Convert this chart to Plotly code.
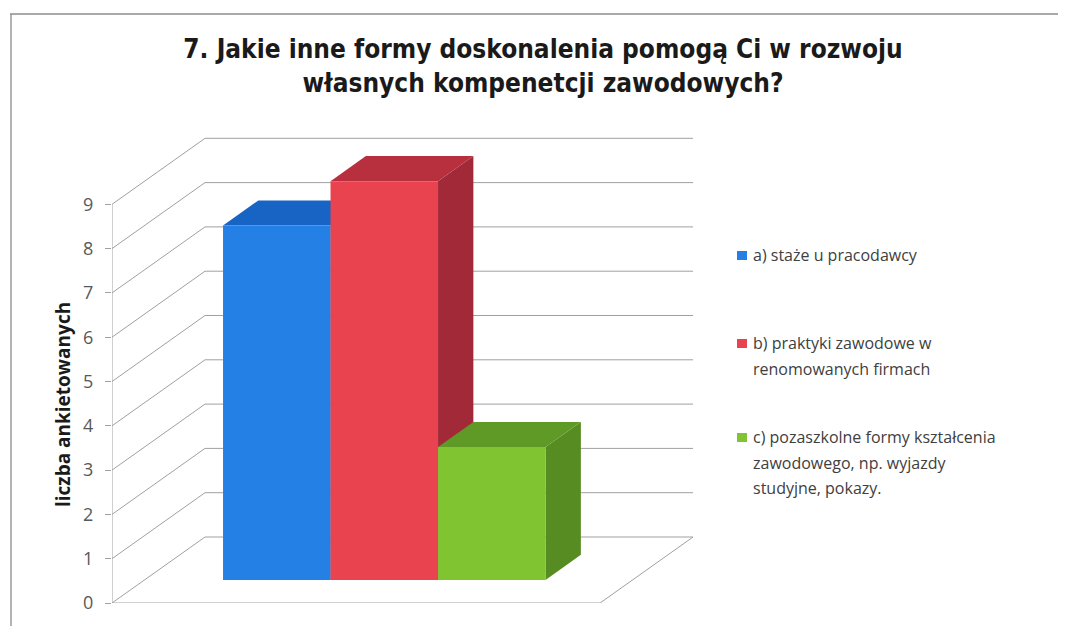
import plotly.graph_objects as go

# ---------------- data ----------------
series_names = [
    "a) staże u pracodawcy",
    "b) praktyki zawodowe w<br>renomowanych firmach",
    "c) pozaszkolne formy kształcenia<br>zawodowego, np. wyjazdy<br>studyjne, pokazy.",
]
series_values = [8, 9, 3]
tick_values = list(range(0, 10))
title_text = "7. Jakie inne formy doskonalenia pomogą Ci w rozwoju<br>własnych kompenetcji zawodowych?"
y_title = "liczba ankietowanych"

front_colors = ["#2580e6", "#e8434f", "#80c431"]
top_colors = ["#1764c4", "#b8303e", "#5f9a26"]
side_colors = ["#1a5db5", "#a22a38", "#578c22"]

# ---------------- layout geometry ----------------
OFF = 8                         # page body margin
W, H = 1066 - OFF, 626 - OFF
ML, MR, MT, MB = 112 - OFF, 366, 100 - OFF, 23
PW, PH = W - ML - MR, H - MT - MB
XU, YU = 107.5, 44.3           # px per unit
DX, DY = 93 / XU, 66 / YU      # full depth offset (oblique projection)
F0, F1 = 0.35, 0.73            # bar front / back depth fraction
GAP = 0.73                     # floor gap left of first bar
FLOOR_W = 4.54
GRID = "#a0a0a0"


def xp(px):
    return (px - OFF - ML) / PW


def yp(py):
    return (H - MB - (py - OFF)) / PH


fig = go.Figure()

# gridlines: back wall, left wall diagonals, floor
gx, gy = [], []
for k in tick_values:
    gx += [0, DX, FLOOR_W + DX, None]
    gy += [k, k + DY, k + DY, None]
gx += [0, FLOOR_W, FLOOR_W + DX, None]
gy += [0, 0, DY, None]
gx += [0, 0, None]
gy += [0, tick_values[-1], None]
fig.add_trace(go.Scatter(x=gx, y=gy, mode="lines", line=dict(color=GRID, width=1),
                         hoverinfo="skip", showlegend=False, cliponaxis=False))

# 3D bars
for i, (name, v) in enumerate(zip(series_names, series_values)):
    l = GAP + i
    r = l + 1
    fig.add_trace(go.Scatter(
        x=[r + F0 * DX, r + F1 * DX, r + F1 * DX, r + F0 * DX, r + F0 * DX],
        y=[F0 * DY, F1 * DY, v + F1 * DY, v + F0 * DY, F0 * DY],
        mode="lines", fill="toself", fillcolor=side_colors[i], line=dict(width=0),
        hoverinfo="skip", showlegend=False))
    fig.add_trace(go.Scatter(
        x=[l + F0 * DX, r + F0 * DX, r + F1 * DX, l + F1 * DX, l + F0 * DX],
        y=[v + F0 * DY, v + F0 * DY, v + F1 * DY, v + F1 * DY, v + F0 * DY],
        mode="lines", fill="toself", fillcolor=top_colors[i], line=dict(width=0),
        hoverinfo="skip", showlegend=False))
    fig.add_trace(go.Scatter(
        x=[l + F0 * DX, r + F0 * DX, r + F0 * DX, l + F0 * DX, l + F0 * DX],
        y=[F0 * DY, F0 * DY, v + F0 * DY, v + F0 * DY, F0 * DY],
        mode="lines", fill="toself", fillcolor=front_colors[i], line=dict(width=0),
        name=name.replace("<br>", " "), hovertemplate="%{fullData.name}: " + str(v) + "<extra></extra>",
        showlegend=False))

# manual legend
LEG_FONT = dict(family="Open Sans, sans-serif", size=16, color="#404040")
legend_rows = [255, 343, 437]
LINE_H = 25.5
annotations = []
shapes = []
for i, name in enumerate(series_names):
    lines = name.split("<br>")
    y0 = legend_rows[i]
    shapes.append(dict(type="rect", xref="paper", yref="paper",
                       x0=xp(737), x1=xp(747), y0=yp(y0 + 5), y1=yp(y0 - 4),
                       fillcolor=front_colors[i], line=dict(width=0)))
    for j, ln in enumerate(lines):
        annotations.append(dict(text=ln, x=xp(751), y=yp(y0 + j * LINE_H), xref="paper", yref="paper",
                                xanchor="left", yanchor="middle", showarrow=False, font=LEG_FONT))

# y axis title
annotations.append(dict(text=y_title, x=xp(63), y=yp(405), xref="paper", yref="paper", textangle=-90,
                        xanchor="center", yanchor="middle", showarrow=False,
                        font=dict(family="Open Sans, sans-serif", size=19, color="#1a1a1a", weight="bold")))

# chart border (top + left visible)
shapes.append(dict(type="line", xref="paper", yref="paper", x0=xp(10), x1=xp(1070), y0=yp(14), y1=yp(14),
                   line=dict(color="#8c8c8c", width=1.5)))
shapes.append(dict(type="line", xref="paper", yref="paper", x0=xp(11), x1=xp(11), y0=yp(14), y1=yp(630),
                   line=dict(color="#9a9a9a", width=1.5)))

fig.update_layout(
    width=W, height=H,
    margin=dict(l=ML, r=MR, t=MT, b=MB),
    paper_bgcolor="white", plot_bgcolor="white",
    showlegend=False,
    title=dict(text=title_text, x=(543 - OFF) / W, xanchor="center", y=1 - 50 / H, yanchor="top",
               font=dict(family="Liberation Sans Narrow, DejaVu Sans Condensed, Open Sans, sans-serif",
                         size=26, color="#1a1a1a", weight="bold")),
    xaxis=dict(range=[0, PW / XU], visible=False, fixedrange=True),
    yaxis=dict(range=[0, PH / YU], tickvals=tick_values, ticks="outside", ticklen=6, tickcolor=GRID,
               ticklabelstandoff=8,
               showgrid=False, zeroline=False, showline=False,
               tickfont=dict(family="Open Sans, sans-serif", size=18, color="#595959"),
               fixedrange=True),
    annotations=annotations,
    shapes=shapes,
)

fig.write_html("out.html")
